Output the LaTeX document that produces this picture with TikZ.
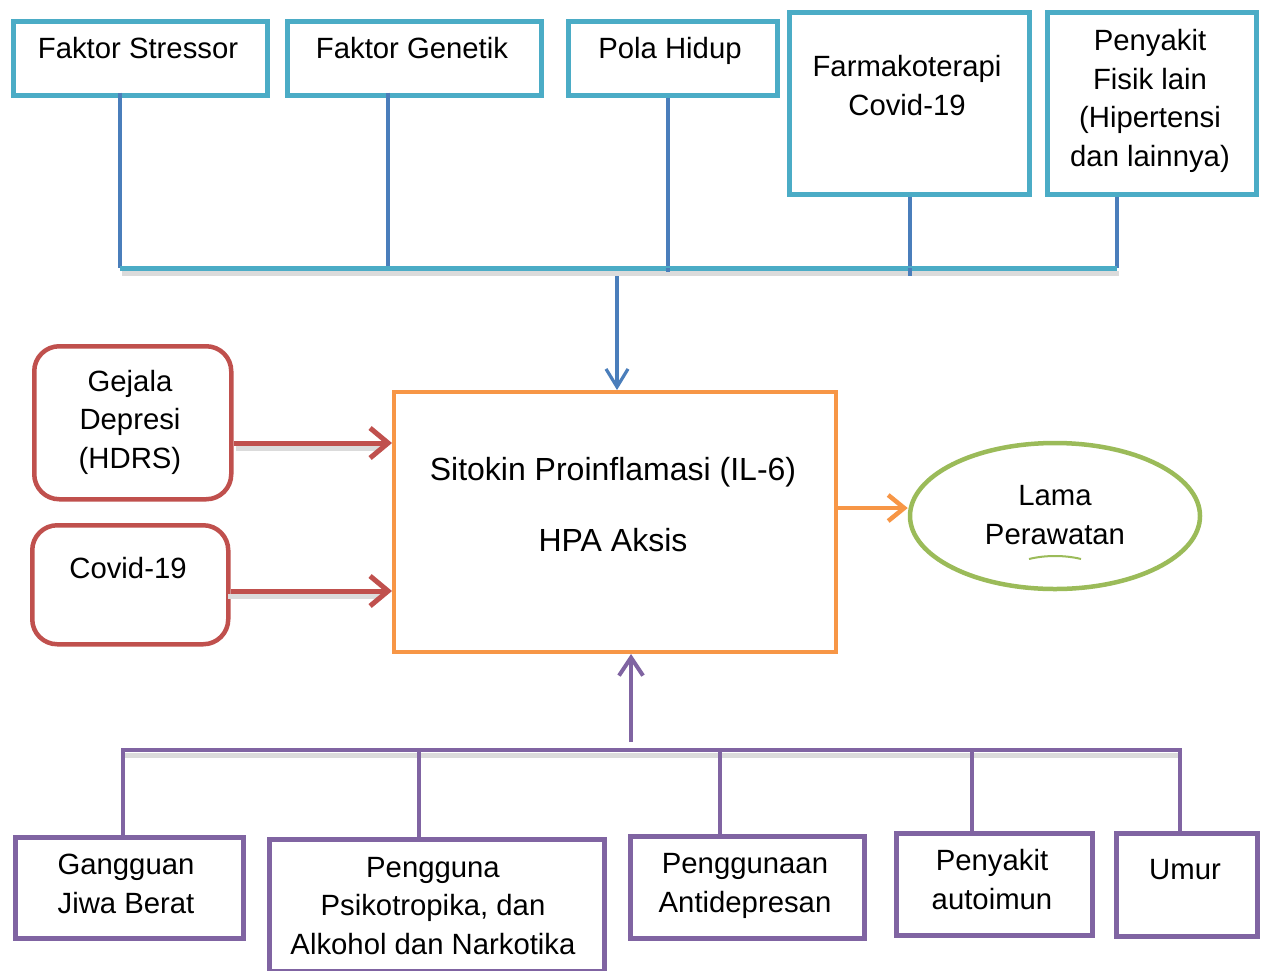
\documentclass[tikz,border=0pt]{standalone}
\usepackage{fontspec}
\setmainfont{Liberation Sans}
\usetikzlibrary{arrows.meta,shapes.geometric,calc}
\definecolor{cteal}{HTML}{4BACC6}
\definecolor{cblue}{HTML}{4A7EBB}
\definecolor{corange}{HTML}{F79646}
\definecolor{cred}{HTML}{C0504D}
\definecolor{cgreen}{HTML}{9BBB59}
\definecolor{cpurple}{HTML}{8064A2}
\begin{document}
\begin{tikzpicture}[x=1pt,y=-1pt,
  font=\fontsize{29.3}{38.5}\selectfont,
  boxbase/.style={anchor=north west, inner sep=0pt, fill=white},
  tbox/.style={boxbase, draw=cteal, line width=4.5pt},
  rbox/.style={boxbase, draw=cred, line width=4.5pt, rounded corners=25pt},
  pbox/.style={boxbase, draw=cpurple, line width=4.5pt},
  txt/.style={anchor=base, align=center, inner sep=0pt},
  blueline/.style={draw=cblue, line width=3.2pt},
  tealbar/.style={draw=cteal, line width=5pt},
  purpleline/.style={draw=cpurple, line width=4pt},
  shadowline/.style={draw=black!14, line width=5pt},
  redarrow/.style={draw=cred, line width=5pt, -{Straight Barb[length=18pt,width=30pt,line width=5pt]}},
  orangearrow/.style={draw=corange, line width=4.5pt, -{Straight Barb[length=16pt,width=26pt,line width=4.5pt]}},
  bluearrow/.style={draw=cblue, line width=3.2pt, -{Straight Barb[length=18pt,width=22pt,line width=3.2pt]}},
  purplearrow/.style={draw=cpurple, line width=4pt, -{Straight Barb[length=18pt,width=24pt,line width=4pt]}}
]
\useasboundingbox[fill=white] (0,0) rectangle (1263,970);

% coordinates for the connector bars
\coordinate (tb1) at (120,268);
\coordinate (tb2) at (388,268);
\coordinate (tb3) at (668,268);
\coordinate (tb4) at (910,268);
\coordinate (tb5) at (1117,268);
\coordinate (tbm) at (617,276);
\coordinate (pb1) at (123,750);
\coordinate (pb2) at (419,750);
\coordinate (pb3) at (720,750);
\coordinate (pb4) at (972,750);
\coordinate (pb5) at (1180,750);
\coordinate (pbm) at (631,742);

% shadows of bars
\draw[shadowline] ($(tb1)+(2,5)$) -- ($(tb5)+(2,5)$);
\draw[shadowline] ($(pb1)+(2,5)$) -- ($(pb5)+(2,5)$);

% top boxes
\node[tbox, minimum width=254pt, minimum height=74pt] (b1) at (11,19) {};
\node[tbox, minimum width=254pt, minimum height=74pt] (b2) at (285,19) {};
\node[tbox, minimum width=209pt, minimum height=74pt] (b3) at (566,19) {};
\node[tbox, minimum width=240pt, minimum height=182pt] (b4) at (787,10) {};
\node[tbox, minimum width=209pt, minimum height=182pt] (b5) at (1045,10) {};
\draw[blueline] (b1.south -| tb1) ++(0,-5) -- (tb1);
\draw[blueline] (b2.south -| tb2) ++(0,-5) -- (tb2);
\draw[blueline] (b3.south -| tb3) -- ($(tb3)+(0,4)$);
\draw[blueline] (b4.south -| tb4) -- ($(tb4)+(0,8)$);
\draw[blueline] (b5.south -| tb5) -- (tb5);
\draw[tealbar] (tb1) -- (tb5);
\draw[blueline] (tb3) -- ($(tb3)+(0,4)$);
\draw[blueline] (tb4) -- ($(tb4)+(0,8)$);

\node[txt] (t1) at (138,58) {Faktor Stressor};
\node[txt] (t2) at (412,58) {Faktor Genetik};
\node[txt] (t3) at (670,58) {Pola Hidup};
\node[txt] (t4) at (907,115) {Farmakoterapi\\Covid-19};
\node[txt] (t5) at (1150,166) {Penyakit\\Fisik lain\\(Hipertensi\\dan lainnya)};

% left red boxes
\node[rbox, minimum width=197pt, minimum height=153pt] (g1) at (32,344) {};
\node[rbox, minimum width=196pt, minimum height=119pt] (g2) at (30,523) {};
\node[txt] (tg1) at (130,468) {Gejala\\Depresi\\(HDRS)};
\node[txt] (tg2) at (128,578) {Covid-19};

% centre box
\node[boxbase, draw=corange, line width=4pt, minimum width=442pt, minimum height=260pt] (c) at (392,390) {};
\node[txt, font=\fontsize{32}{38.5}\selectfont] (tc1) at (613,480) {Sitokin Proinflamasi (IL-6)};
\node[txt, font=\fontsize{32}{38.5}\selectfont] (tc2) at (613,551) {HPA Aksis};

% ellipse
\node[ellipse, draw=cgreen, line width=4.5pt, minimum width=290pt, minimum height=146pt, inner sep=0pt] (e) at (1055,516) {};
\node[txt] (te) at (1055,544) {Lama\\Perawatan};
\draw[draw=cgreen, line width=2pt] (1029,559) .. controls (1045,555) and (1065,555) .. (1081,559);

% bottom purple boxes
\node[pbox, minimum width=228pt, minimum height=101pt] (p1) at (13,835) {};
\node[pbox, minimum width=335pt, minimum height=132pt] (p2) at (267,837) {};
\node[pbox, minimum width=234pt, minimum height=102pt] (p3) at (628,834) {};
\node[pbox, minimum width=196pt, minimum height=102pt] (p4) at (894,831) {};
\node[pbox, minimum width=141pt, minimum height=103pt] (p5) at (1114,831) {};
\draw[purpleline] (pb1) -- (p1.north -| pb1);
\draw[purpleline] (pb2) -- (p2.north -| pb2);
\draw[purpleline] (pb3) -- (p3.north -| pb3);
\draw[purpleline] (pb4) -- (p4.north -| pb4);
\draw[purpleline] (pb5) -- (p5.north -| pb5);
\draw[purpleline, line cap=rect] (pb1) -- (pb5);
\node[txt] (tp1) at (126,913) {Gangguan\\Jiwa Berat};
\node[txt] (tp2) at (433,954) {Pengguna\\Psikotropika, dan\\Alkohol dan Narkotika};
\node[txt] (tp3) at (745,912) {Penggunaan\\Antidepresan};
\node[txt] (tp4) at (992,909) {Penyakit\\autoimun};
\node[txt] (tp5) at (1185,879) {Umur};

% arrows
\coordinate (ra1) at (234,443);
\coordinate (ra2) at (226,591);
\coordinate (oa) at (834,508);
\draw[draw=black!14, line width=5pt] ($(ra1)+(2,5)$) -- ($(c.west |- ra1)+(-10,5)$);
\draw[draw=black!14, line width=5pt] ($(ra2)+(2,5)$) -- ($(c.west |- ra2)+(-10,5)$);
\draw[redarrow] (ra1) -- (c.west |- ra1);
\draw[redarrow] (g2.east |- ra2) -- (c.west |- ra2);
\draw[orangearrow] (c.east |- oa) -- (e.west |- oa);
\draw[bluearrow] (tbm) -- (c.north -| tbm);
\draw[purplearrow] (pbm) -- (c.south -| pbm);
\end{tikzpicture}
\end{document}
